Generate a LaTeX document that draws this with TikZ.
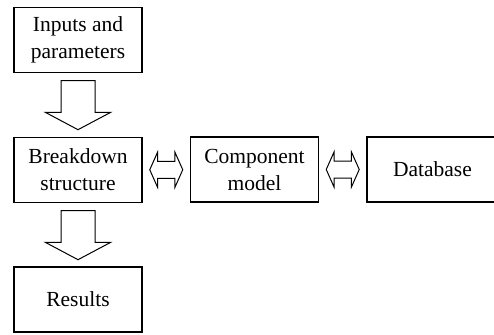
\documentclass[tikz,border=0pt]{standalone}
\usepackage{fontspec}
\setmainfont{Liberation Serif}
\usetikzlibrary{shapes.arrows,positioning,calc}
\tikzset{
  blk/.style={draw,line width=0.7pt,minimum width=64pt,minimum height=32.5pt,
    align=center,inner sep=0pt,font=\fontsize{10.75}{13.5}\selectfont},
  downarr/.style={draw,line width=0.5pt,single arrow,shape border rotate=270,
    minimum height=24.5pt,minimum width=32pt,single arrow head extend=7.75pt,
    single arrow tip angle=124,inner xsep=8.25pt,inner ysep=0pt,anchor=tail},
  lrarr/.style={draw,line width=0.5pt,double arrow,minimum height=16.5pt,
    minimum width=17pt,double arrow head extend=4.5pt,
    double arrow tip angle=132,inner xsep=0pt,inner ysep=4pt}
}
\begin{document}
\begin{tikzpicture}[x=0.5pt,y=-0.5pt]
\useasboundingbox (0,0) rectangle (494,334);
% boxes
\node[blk] (inp) at (78,40) {Inputs and\\parameters};
\node[blk] (bds) at (78,170) {Breakdown\\structure};
\node[blk] (res) at (78,299.5) {Results};
\node[blk] (cmp) at (254.5,169.5) {Component\\model};
\node[blk,minimum width=65.5pt] (dbs) at (432.5,169.5) {Database};
% block arrows
\node[downarr] (inbd) at ($(inp.south)+(0,7)$) {};
\node[downarr] (bdre) at ($(bds.south)+(0,7)$) {};
\node[lrarr] (bdcm) at ($(bds.east)!0.5!(cmp.west)$) {};
\node[lrarr] (cmdb) at ($(cmp.east)!0.5!(dbs.west)$) {};
\end{tikzpicture}
\end{document}
